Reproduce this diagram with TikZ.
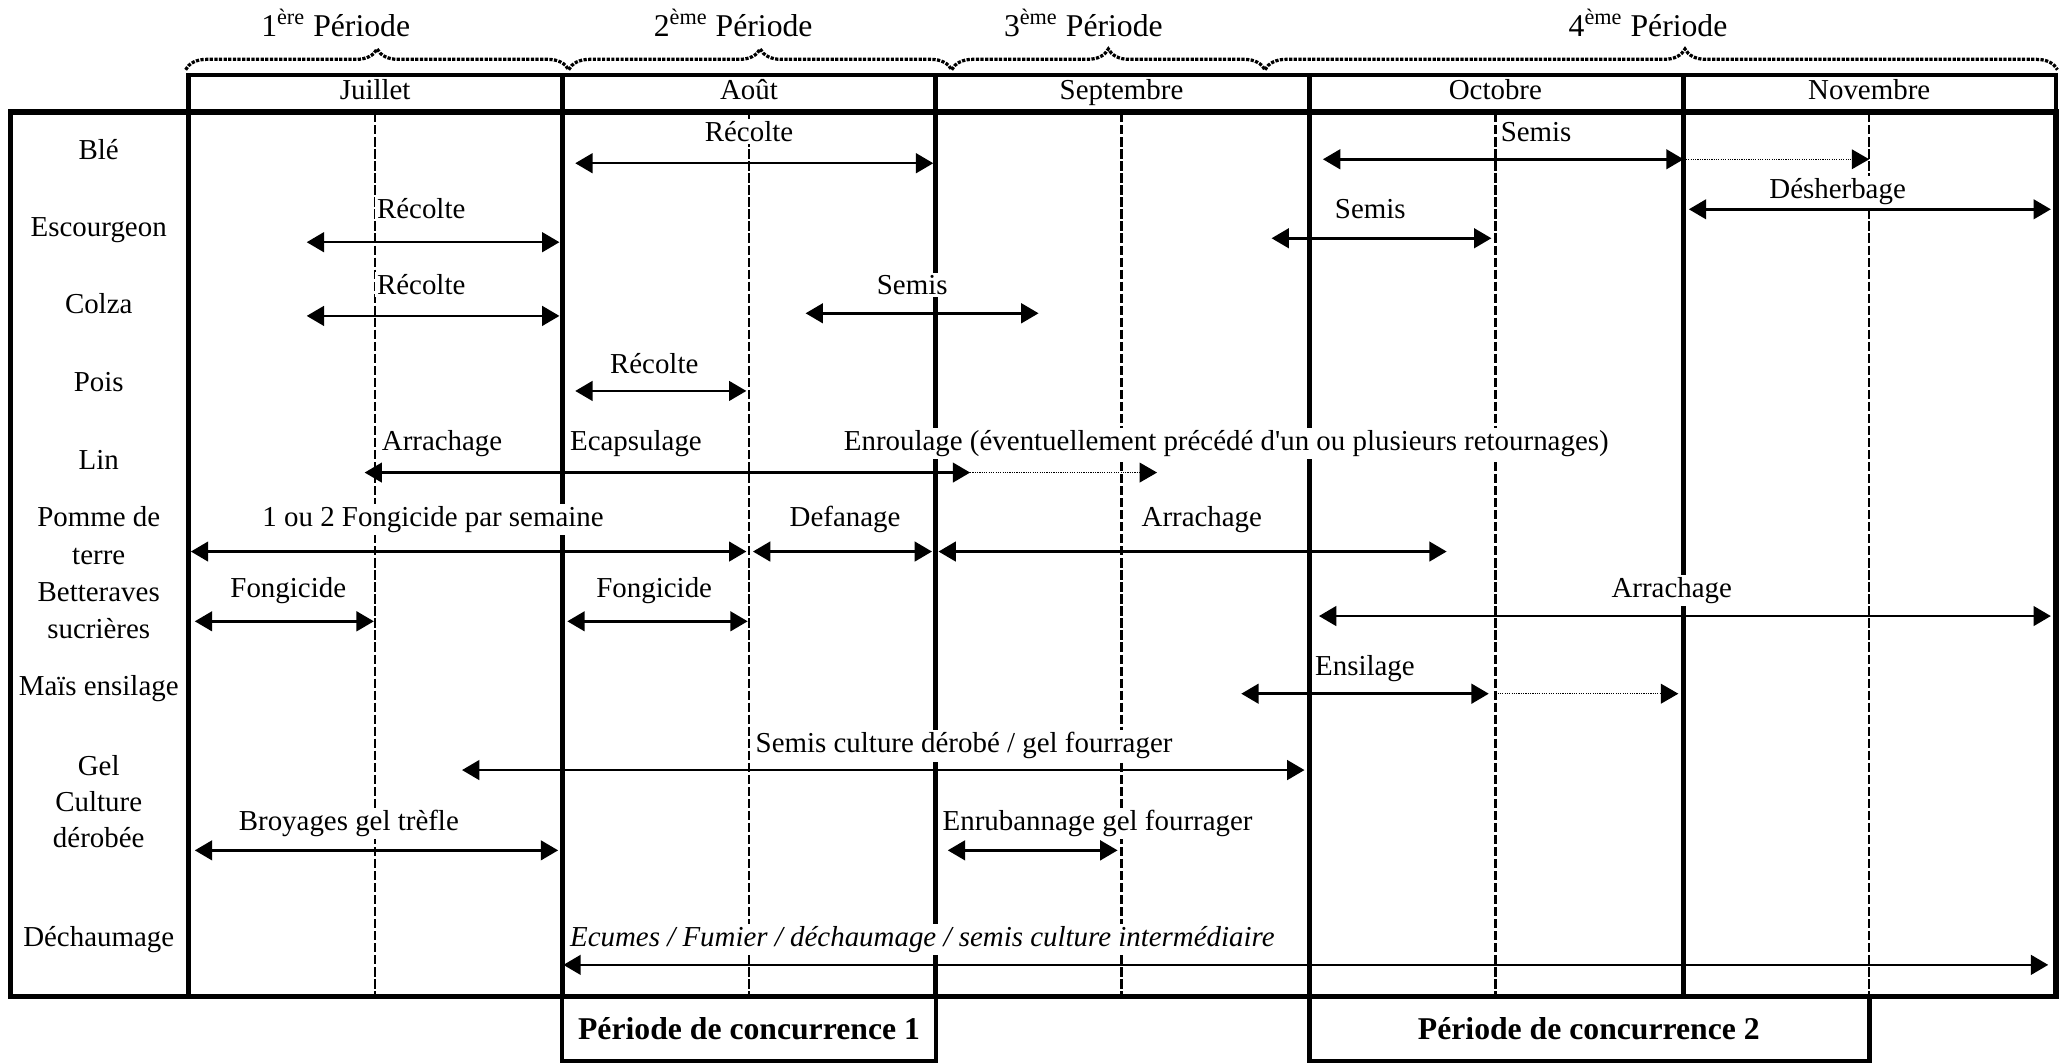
\documentclass[tikz,border=0pt]{standalone}
\usepackage{fontspec}
\setmainfont{Liberation Serif}
\usepackage{tikz}
\usetikzlibrary{arrows.meta,decorations.pathreplacing}

\begin{document}
\begin{tikzpicture}[x=0.2mm, y=-0.2mm,
    >={Triangle[length=7.5pt,width=8.5pt]},
    every node/.style={font=\fontsize{12.5pt}{15pt}\selectfont},
    lbl/.style={fill=white, inner sep=1pt},
    per/.style={font=\fontsize{13.7pt}{16pt}\selectfont, inner sep=1pt},
    brc/.style={decorate, line width=1.4pt, dash pattern=on 1.4pt off 0.6pt},
    mois/.style={line width=2.2pt},
    demi/.style={line width=1pt, dash pattern=on 4pt off 1.2pt},
    act/.style={<->, line width=1.1pt},
    suite/.style={->, line width=0.6pt, dash pattern=on 0.5pt off 0.5pt}]
    \useasboundingbox (0,0) rectangle (1568,808);

    % Periodes
    \draw[brc, decoration={brace, amplitude=9pt}] (141,53) -- (432,53);
    \draw[brc, decoration={brace, amplitude=9pt}] (432,53) -- (723,53);
    \draw[brc, decoration={brace, amplitude=9pt}] (723,53) -- (961,53);
    \draw[brc, decoration={brace, amplitude=9pt, aspect=0.53}] (961,53) -- (1563,53);
    \node[per, anchor=base] (p1) at (255,28) {1\textsuperscript{ère} Période};
    \node[per, anchor=base] (p2) at (557,28) {2\textsuperscript{ème} Période};
    \node[per, anchor=base] (p3) at (823,28) {3\textsuperscript{ème} Période};
    \node[per, anchor=base] (p4) at (1252,28) {4\textsuperscript{ème} Période};

    % Tableau
    \draw[line width=1.9pt] (143,57) rectangle (1562,85);
    \draw[line width=2.5pt] (8,85) rectangle (1562,757);
    \foreach \x in {143,427,711,995,1279}
        \draw[mois] (\x,57) -- (\x,757);
    \foreach \x in {285,569,852,1136,1420}
        \draw[demi] (\x,86) -- (\x,756);
    \draw[line width=2pt] (427,757) rectangle (711,806);
    \draw[line width=2pt] (995,757) rectangle (1420,806);

    % Mois
    \node[anchor=base] (juil) at (285,75.5) {Juillet};
    \node[anchor=base] (aout) at (569,75.5) {Août};
    \node[anchor=base] (sept) at (852,75.5) {Septembre};
    \node[anchor=base] (oct) at (1136,75.5) {Octobre};
    \node[anchor=base] (nov) at (1420,75.5) {Novembre};

    % Cultures
    \node[anchor=base] (ble) at (75,121) {Blé};
    \node[anchor=base] (esc) at (75,180) {Escourgeon};
    \node[anchor=base] (colza) at (75,238) {Colza};
    \node[anchor=base] (pois) at (75,297.6) {Pois};
    \node[anchor=base] (lin) at (75,357) {Lin};
    \node[anchor=base] (pdt) at (75,400) {Pomme de};
    \node[anchor=base] (pdt2) at (75,429) {terre};
    \node[anchor=base] (bett) at (75,457) {Betteraves};
    \node[anchor=base] (bett2) at (75,485) {sucrières};
    \node[anchor=base] (mais) at (75,528) {Maïs ensilage};
    \node[anchor=base] (gel) at (75,589) {Gel};
    \node[anchor=base] (gel2) at (75,616.6) {Culture};
    \node[anchor=base] (gel3) at (75,644) {dérobée};
    \node[anchor=base] (dech) at (75,719) {Déchaumage};

    % Travaux
    \node[lbl, anchor=base] (bleR) at (569,107.6) {Récolte};
    \node[lbl, anchor=base west] (bleS) at (1138,107.6) {Semis};
    \node[lbl, anchor=base] (escR) at (320,166) {Récolte};
    \node[lbl, anchor=base] (escS) at (1041,166) {Semis};
    \node[lbl, anchor=base] (escD) at (1396,151) {Désherbage};
    \node[lbl, anchor=base] (colR) at (320,224) {Récolte};
    \node[lbl, anchor=base] (colS) at (693,224) {Semis};
    \node[lbl, anchor=base] (poiR) at (497,283.6) {Récolte};
    \node[lbl, anchor=base west] (linA) at (288,342) {Arrachage};
    \node[lbl, anchor=base west] (linE) at (431,342) {Ecapsulage};
    \node[lbl, anchor=base west] (linR) at (639,342) {Enroulage (éventuellement précédé d\textquotesingle un ou plusieurs retournages)};
    \node[lbl, anchor=base] (pdtF) at (329,400) {1 ou 2 Fongicide par semaine};
    \node[lbl, anchor=base] (pdtD) at (642,400) {Defanage};
    \node[lbl, anchor=base] (pdtA) at (913,400) {Arrachage};
    \node[lbl, anchor=base] (betF1) at (219,454) {Fongicide};
    \node[lbl, anchor=base] (betF2) at (497,454) {Fongicide};
    \node[lbl, anchor=base] (betA) at (1270,454) {Arrachage};
    \node[lbl, anchor=base west] (maiE) at (997,513) {Ensilage};
    \node[lbl, anchor=base west] (gelS) at (572,572) {Semis culture dérobé / gel fourrager};
    \node[lbl, anchor=base] (gelB) at (265,631) {Broyages gel trèfle};
    \node[lbl, anchor=base west] (gelE) at (714,631) {Enrubannage gel fourrager};
    \node[lbl, anchor=base west] (dechE) at (431,719) {\textit{Ecumes / Fumier / déchaumage / semis culture intermédiaire}};

    \draw[act] (437,124) -- (709,124);
    \draw[act] (1005,121) -- (1279,121);
    \draw[suite] (1279,121) -- (1420,121);
    \draw[act] (233,184) -- (425,184);
    \draw[act] (966,181) -- (1133,181);
    \draw[act] (1283,159) -- (1558,159);
    \draw[act] (233,240) -- (425,240);
    \draw[act] (612,238) -- (789,238);
    \draw[act] (437,297) -- (567,297);
    \draw[act] (277,359) -- (737,359);
    \draw[suite] (737,359) -- (879,359);
    \draw[act] (145,419) -- (567,419);
    \draw[act] (572,419) -- (708,419);
    \draw[act] (713,419) -- (1099,419);
    \draw[act] (148,472) -- (284,472);
    \draw[act] (431,472) -- (568,472);
    \draw[act] (1002,468) -- (1558,468);
    \draw[act] (943,527) -- (1131,527);
    \draw[suite] (1136,527) -- (1275,527);
    \draw[act] (351,585) -- (991,585);
    \draw[act] (148,646) -- (424,646);
    \draw[act] (720,646) -- (849,646);
    \draw[act] (428,733) -- (1556,733);

    % Concurrence
    \node[per, anchor=base] (conc1) at (569,790) {\textbf{Période de concurrence 1}};
    \node[per, anchor=base] (conc2) at (1207,790) {\textbf{Période de concurrence 2}};
\end{tikzpicture}
\end{document}
